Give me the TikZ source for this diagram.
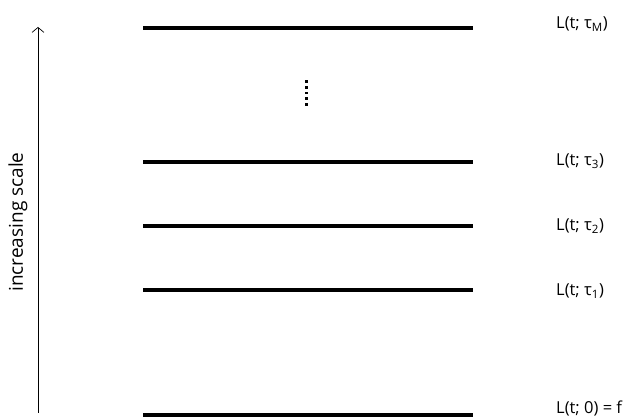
\documentclass[tikz,border=0pt]{standalone}
\usepackage{fontspec}
\setmainfont{Open Sans}
\usetikzlibrary{arrows.meta}
\begin{document}
\begin{tikzpicture}[x=1pt,y=1pt,
  level/.style={line width=4pt},
  lab/.style={anchor=west,inner sep=0pt,font=\fontsize{16.5}{19}\selectfont},
  dotmark/.style={fill=black,minimum size=2.6pt,inner sep=0pt,draw=none}]
\useasboundingbox (0,0) rectangle (631,419);
% levels
\coordinate (l0a) at (143,4);   \coordinate (l0b) at (473,4);
\coordinate (l1a) at (143,129); \coordinate (l1b) at (473,129);
\coordinate (l2a) at (143,193); \coordinate (l2b) at (473,193);
\coordinate (l3a) at (143,257); \coordinate (l3b) at (473,257);
\coordinate (lMa) at (143,391); \coordinate (lMb) at (473,391);
\draw[level] (l0a) -- (l0b);
\draw[level] (l1a) -- (l1b);
\draw[level] (l2a) -- (l2b);
\draw[level] (l3a) -- (l3b);
\draw[level] (lMa) -- (lMb);
% labels
\node[lab] (t0) at (556,11) {L(t; 0) = f};
\node[lab] (t1) at (556,128) {L(t; τ\textsubscript{1})};
\node[lab] (t2) at (556,193) {L(t; τ\textsubscript{2})};
\node[lab] (t3) at (556,258) {L(t; τ\textsubscript{3})};
\node[lab] (tM) at (556,395) {L(t; τ\textsubscript{M})};
% dots
\foreach \i/\yy in {1/337.3,2/331.6,3/325.9,4/320.2,5/314.5}
  \node[dotmark] (d\i) at (306.5,\yy) {};
% arrow
\coordinate (ab) at (38,6);
\coordinate (at) at (38,392);
\draw[line width=0.7pt,-{Straight Barb[length=5pt,width=12pt,line width=0.7pt]}] (ab) -- (at);
\node[rotate=90,inner sep=0pt,font=\fontsize{19}{22}\selectfont] (inc) at (18,197) {increasing scale};
\end{tikzpicture}
\end{document}
